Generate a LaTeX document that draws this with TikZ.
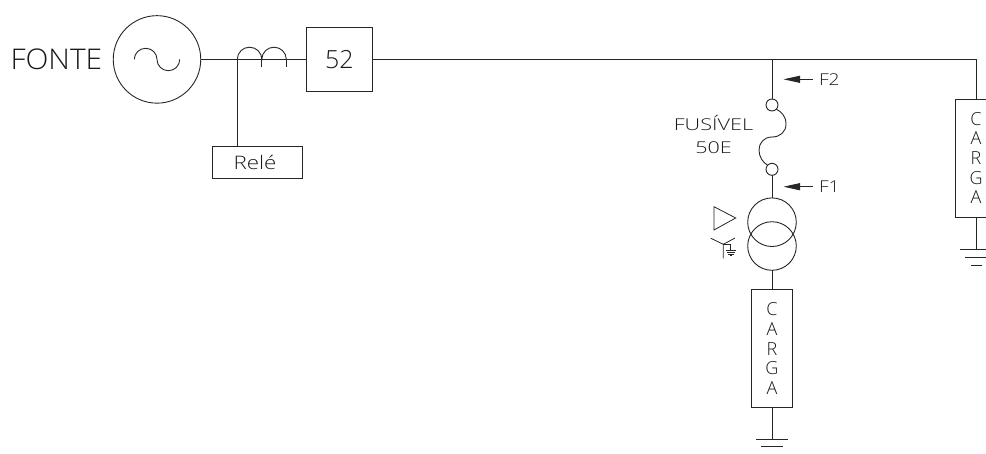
\documentclass[tikz,border=0pt]{standalone}
\usepackage{fontspec}
\setmainfont{Open Sans}[UprightFont=* Light]
\usetikzlibrary{arrows.meta}
\tikzset{
  wire/.style={line width=0.9pt,draw=black!85},
  boxn/.style={wire,rectangle,inner sep=0pt,outer sep=0pt,text=black!90},
  ringn/.style={wire,circle,inner sep=0pt,outer sep=0pt},
  label/.style={inner sep=0pt,outer sep=0pt,text=black!90},
  fsmall/.style={font=\fontsize{16.3}{18}\selectfont},
  cargatxt/.style={align=center,font=\fontsize{18}{19.6}\selectfont},
  fault/.style={wire,-{Triangle[length=16.5pt,width=7pt]}}
}
\begin{document}
\begin{tikzpicture}[x=1pt,y=-1pt]
\useasboundingbox (0,0) rectangle (986,453);
% source
\node[label,anchor=center,xscale=1.05,font=\fontsize{28.5}{30}\selectfont] (fonte) at (56.4,59.4) {FONTE};
\node[ringn,minimum size=87.5pt] (src) at (157,59.4) {};
\coordinate (sa) at (134.3,59.4);
\coordinate (sb) at (157,59.4);
\coordinate (sc) at (179.7,59.4);
\draw[wire] (sa) .. controls (134.3,53.3) and (139.4,48.3) .. (145.7,48.3)
  .. controls (152,48.3) and (157,53.3) .. (sb)
  .. controls (157,65.7) and (162.1,70.7) .. (168.4,70.7)
  .. controls (174.7,70.7) and (179.7,65.7) .. (sc);
% breaker and relay
\node[boxn,minimum width=65.3pt,minimum height=63.7pt,font=\fontsize{25}{27}\selectfont] (bk) at (339.3,59.4) {52};
\node[boxn,minimum width=90pt,minimum height=31.3pt] (rl) at (257.7,162.3) {};
\node[label,anchor=base,xscale=1.2,font=\fontsize{18.6}{20}\selectfont] (rltx) at (255,169.3) {Relé};
\coordinate (ca) at (237.3,59.4);
\coordinate (cb) at (261.8,59.4);
\coordinate (cc) at (286.3,59.4);
\coordinate (cbl) at (261.8,67.3);
\coordinate (ccl) at (286.3,67.3);
\coordinate (rlt) at (237.3,146.7);
\draw[wire] (src.east) -- (bk.west);
\draw[wire] (ca) -- (rlt);
\draw[wire] (ca) .. controls (237.3,52.6) and (242.8,47.2) .. (249.5,47.2)
  .. controls (256.3,47.2) and (261.8,52.6) .. (cb)
  .. controls (261.8,52.6) and (267.3,47.2) .. (274,47.2)
  .. controls (280.8,47.2) and (286.3,52.6) .. (cc);
\draw[wire] (cb) -- (cbl);
\draw[wire] (cc) -- (ccl);
% bus
\coordinate (tap) at (772,59.4);
\coordinate (corner) at (976,59.4);
\coordinate (rboxt) at (976,99.3);
\draw[wire] (bk.east) -- (corner) -- (rboxt);
% fuse
\node[ringn,minimum size=12pt] (fa) at (772,105) {};
\node[ringn,minimum size=12pt] (fb) at (772,169.3) {};
\draw[wire] (tap) -- (fa.north);
\coordinate (fsa) at (776.5,109.3);
\coordinate (fsm) at (772,137);
\coordinate (fsb) at (767.3,165);
\draw[wire] (fsa) .. controls (781,111.5) and (786,116) .. (786,124)
  .. controls (786,132) and (780,137) .. (fsm)
  .. controls (764,137) and (759,143) .. (759,150)
  .. controls (759,157) and (763,162.5) .. (fsb);
\node[label,anchor=base,xscale=1.33,fsmall] (fusl) at (713.5,130) {FUSÍVEL};
\node[label,anchor=base,xscale=1.32,fsmall] (fusv) at (713.5,153) {50E};
% fault arrows
\coordinate (f2a) at (812.7,79.3);
\coordinate (f2b) at (783.5,79.3);
\coordinate (f1a) at (812.7,186.7);
\coordinate (f1b) at (783.5,186.7);
\draw[fault] (f2a) -- (f2b);
\draw[fault] (f1a) -- (f1b);
\node[label,anchor=base west,xscale=1.18,fsmall] (f2t) at (819,85.2) {F2};
\node[label,anchor=base west,xscale=1.18,fsmall] (f1t) at (819,192.5) {F1};
% transformer
\node[ringn,minimum size=48.6pt] (tu) at (772,222.2) {};
\node[ringn,minimum size=48.6pt] (tl) at (772,246) {};
\draw[wire] (fb.south) -- (tu.north);
% delta
\coordinate (da) at (714,206.7);
\coordinate (db) at (714,230);
\coordinate (dc) at (735.7,218);
\draw[wire,line width=.8pt] (da) -- (db) -- (dc) -- cycle;
% wye with earth
\coordinate (wc) at (723.3,244.3);
\coordinate (wa) at (710.7,238.2);
\coordinate (wb) at (735,238);
\coordinate (wd) at (723.3,258.3);
\coordinate (we) at (730.7,244.3);
\coordinate (wf) at (730.7,250);
\draw[wire,line width=.8pt] (wa) -- (wc) -- (wb) (wc) -- (wd);
\draw[wire,line width=.8pt] (wc) -- (we) -- (wf);
\draw[wire,line width=.7pt] (725.5,250) -- (736,250) (726.5,252) -- (735,252) (728,254) -- (733.5,254) (729.5,255.8) -- (732,255.8);
% lower load
\node[boxn,minimum width=40.6pt,minimum height=118.4pt,cargatxt] (lc) at (772,348.5) {C\\A\\R\\G\\A};
\coordinate (lg) at (772,439.3);
\draw[wire] (tl.south) -- (lc.north);
\draw[wire] (lc.south) -- (lg);
\coordinate (lga) at (756,439.3);
\coordinate (lgb) at (788,439.3);
\coordinate (lgc) at (761,446.7);
\coordinate (lgd) at (783,446.7);
\draw[wire] (lga) -- (lgb);
\draw[wire] (lgc) -- (lgd);
% right load, cut by the page edge
\coordinate (rtr) at (986,99.3);
\coordinate (rtl) at (955.3,99.3);
\coordinate (rbl) at (955.3,217.3);
\coordinate (rbr) at (986,217.3);
\draw[wire] (rtr) -- (rtl) -- (rbl) -- (rbr);
\node[label,cargatxt] (rc) at (976,158) {C\\A\\R\\G\\A};
\coordinate (rbt) at (976,217.3);
\coordinate (rg) at (976,249);
\draw[wire] (rbt) -- (rg);
\draw[wire] (960,249) -- (986,249);
\draw[wire] (965.3,257) -- (986,257);
\draw[wire] (971,265) -- (982,265);
\end{tikzpicture}
\end{document}
